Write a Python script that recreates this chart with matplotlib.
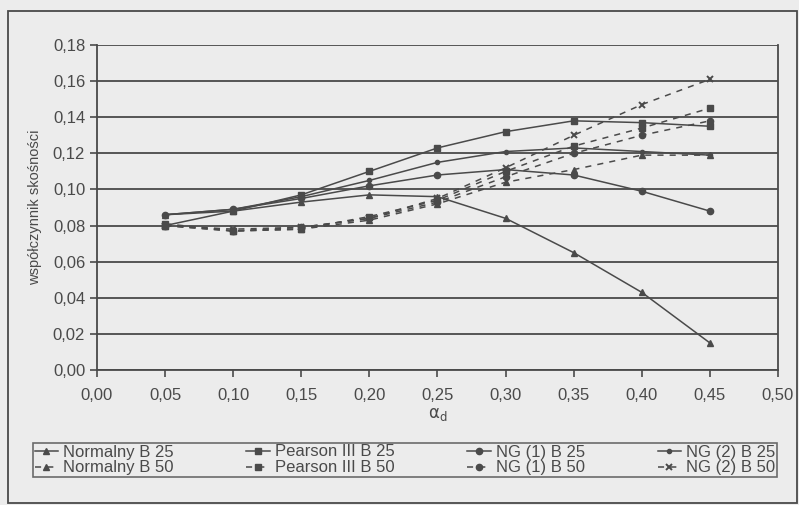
import numpy as np
import matplotlib.pyplot as plt
from matplotlib.patches import Rectangle

plt.rcParams['font.family'] = ['Liberation Sans', 'DejaVu Sans']
plt.rcParams['mathtext.fontset'] = 'dejavusans'

# alpha_d values
alpha = [0.05, 0.10, 0.15, 0.20, 0.25, 0.30, 0.35, 0.40, 0.45]

# B 25 series (solid)
norm_b25 = [0.086, 0.088, 0.093, 0.097, 0.096, 0.084, 0.065, 0.043, 0.015]
pear_b25 = [0.080, 0.088, 0.097, 0.110, 0.123, 0.132, 0.138, 0.137, 0.135]
ng1_b25 = [0.086, 0.089, 0.095, 0.102, 0.108, 0.111, 0.108, 0.099, 0.088]
ng2_b25 = [0.086, 0.089, 0.096, 0.105, 0.115, 0.121, 0.123, 0.121, 0.119]

# B 50 series (dashed)
norm_b50 = [0.080, 0.077, 0.078, 0.083, 0.092, 0.104, 0.111, 0.119, 0.119]
pear_b50 = [0.081, 0.077, 0.078, 0.085, 0.094, 0.110, 0.124, 0.134, 0.145]
ng1_b50 = [0.080, 0.077, 0.079, 0.084, 0.093, 0.107, 0.120, 0.130, 0.138]
ng2_b50 = [0.080, 0.078, 0.079, 0.084, 0.095, 0.112, 0.130, 0.147, 0.161]

bg = '#ececec'
ink = '#4a4a4a'

fig = plt.figure(figsize=(7.99, 5.05), dpi=100, facecolor=bg)
ax = fig.add_axes([0.1214, 0.2673, 0.8523, 0.6436], facecolor=bg)

solid = dict(color=ink, lw=1.1, ls='-')
dash = dict(color=ink, lw=1.1, ls=(0, (4, 4)))

h = {}
h['n25'], = ax.plot(alpha, norm_b25, marker='^', ms=4.5, label='Normalny B 25', **solid)
h['n50'], = ax.plot(alpha, norm_b50, marker='^', ms=4.5, label='Normalny B 50', **dash)
h['p25'], = ax.plot(alpha, pear_b25, marker='s', ms=4.5, label='Pearson III B 25', **solid)
h['p50'], = ax.plot(alpha, pear_b50, marker='s', ms=4.5, label='Pearson III B 50', **dash)
h['g125'], = ax.plot(alpha, ng1_b25, marker='o', ms=4.5, label='NG (1) B 25', **solid)
h['g150'], = ax.plot(alpha, ng1_b50, marker='o', ms=4.5, label='NG (1) B 50', **dash)
h['g225'], = ax.plot(alpha, ng2_b25, marker='.', ms=6, label='NG (2) B 25', **solid)
h['g250'], = ax.plot(alpha, ng2_b50, marker='x', ms=4, mew=1.4, label='NG (2) B 50', **dash)

ax.set_xlim(0, 0.5)
ax.set_ylim(0, 0.18)
ax.set_xticks(np.arange(0, 0.501, 0.05))
ax.set_yticks(np.arange(0, 0.181, 0.02))
ax.set_xticklabels([f'{v:.2f}'.replace('.', ',') for v in np.arange(0, 0.501, 0.05)])
ax.set_yticklabels([f'{v:.2f}'.replace('.', ',') for v in np.arange(0, 0.181, 0.02)])
ax.yaxis.grid(True, color=ink, lw=1.3)
ax.set_axisbelow(True)
for s in ['left', 'bottom', 'right']:
    ax.spines[s].set_color(ink)
    ax.spines[s].set_linewidth(1.3)
ax.spines['top'].set_visible(False)
ax.tick_params(colors=ink, labelsize=12, length=5, width=1.2, direction='out')
ax.tick_params(axis='x', pad=8)
ax.set_xlabel(r'$\mathrm{\alpha}_\mathrm{d}$', color=ink, fontsize=12, labelpad=2)
ax.set_ylabel('współczynnik skośności', color=ink, fontsize=10.5, labelpad=8)

order = ['n25', 'n50', 'p25', 'p50', 'g125', 'g150', 'g225', 'g250']
leg = fig.legend([h[k] for k in order], [h[k].get_label() for k in order],
                 ncol=4, loc='lower left', bbox_to_anchor=(33 / 799, 1 - 477 / 505, 744 / 799, 34 / 505),
                 mode='expand', fontsize=12, frameon=True, fancybox=False,
                 handlelength=1.4, handletextpad=0.3, borderpad=0.1, labelspacing=0.05,
                 borderaxespad=0, columnspacing=1.0)
leg.get_frame().set_edgecolor(ink)
leg.get_frame().set_facecolor(bg)
leg.get_frame().set_linewidth(1.2)
for t in leg.get_texts():
    t.set_color(ink)

fig.patches.append(Rectangle((8 / 799, 2 / 505), 789 / 799, 492 / 505, transform=fig.transFigure,
                             fill=False, edgecolor=ink, lw=1.3))

fig.savefig('out.png', dpi=100, facecolor=bg)
